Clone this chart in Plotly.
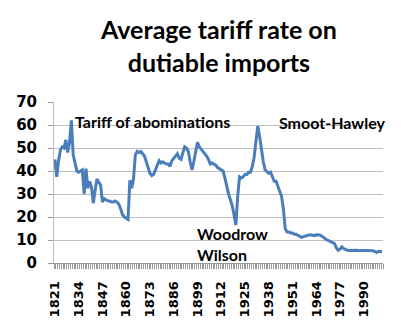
import plotly.graph_objects as go

# Average tariff rate on dutiable imports, percent, 1821-2000
years = list(range(1821, 2001))
tariff_rate = [
    45, 37.5, 44.5, 49, 50.5, 50, 53.5, 48, 52.5, 62,          # 1821-1830
    47, 43, 40, 39.5, 40, 40.5, 30, 41, 32.5, 35.5,             # 1831-1840
    33, 26, 31.5, 36.5, 35, 34, 26.5, 28, 27.5, 27,             # 1841-1850
    27, 26.5, 26.5, 27, 26.5, 25.5, 23.5, 21, 20, 19.5,         # 1851-1860
    19, 36, 32.5, 36.5, 47, 48.5, 48, 48.5, 47.5, 46.5,         # 1861-1870
    44, 41, 39, 38, 38.5, 40.5, 43, 44.5, 43.5, 44,             # 1871-1880
    43.5, 43, 43, 42, 44.5, 45.5, 46.5, 47.5, 45.5, 45,         # 1881-1890
    48, 50.5, 50, 48.5, 44, 40.5, 44, 48, 52.5, 50.5,           # 1891-1900
    49.5, 49, 48, 46.5, 45, 43, 43.5, 43, 42.5, 41.5,           # 1901-1910
    41, 40.5, 40, 37, 33, 30, 27.5, 25, 21, 16.5,               # 1911-1920
    29, 37.5, 37, 37.5, 38.5, 38.5, 39.5, 39.5, 42, 46,         # 1921-1930
    53, 59.5, 55, 49, 44, 40.5, 39.5, 39, 39.5, 37.5,           # 1931-1940
    35.5, 35.5, 33.5, 31.5, 29, 23.5, 15, 13.5, 13.5, 13,       # 1941-1950
    13, 12.5, 12.5, 12, 11.5, 11.2, 11.5, 11.8, 12, 12.2,       # 1951-1960
    12.3, 12, 11.9, 12.3, 12.3, 12.2, 11.6, 11.2, 10.4, 10,     # 1961-1970
    9.4, 9, 8.7, 8.4, 6.5, 5.5, 6, 7, 6.3, 5.8,                 # 1971-1980
    5.5, 5.4, 5.5, 5.5, 5.5, 5.5, 5.4, 5.5, 5.4, 5.4,           # 1981-1990
    5.4, 5.4, 5.3, 5.4, 5.3, 5.0, 4.6, 5.1, 5.0, 4.9,           # 1991-2000
]
label_years = list(range(1821, 2001, 13))
y_ticks = list(range(0, 80, 10))

# Labelled episodes: (text, year, value)
notes = [
    ("Tariff of abominations", 1831, 61.7),
    ("Smoot-Hawley", 1942.5, 61.3),
    ("Woodrow", 1897.5, 13),
    ("Wilson", 1897.5, 3.9),
]

fig = go.Figure()
fig.add_trace(go.Scatter(
    x=years, y=tariff_rate, mode="lines",
    line=dict(color="#4a7ebb", width=3),
    hoverinfo="x+y",
))

for text, xv, yv in notes:
    fig.add_annotation(
        x=xv, y=yv, text=text, showarrow=False,
        xanchor="left", yanchor="middle",
        font=dict(family="Lato", size=16, color="black", weight="bold"),
    )

# Two-line chart title above the plot area
fig.add_annotation(
    x=0.5, y=1.35, xref="paper", yref="paper",
    xanchor="center", yanchor="middle", showarrow=False,
    text="Average tariff rate on<br>dutiable imports",
    font=dict(family="Lato", size=25, color="black", weight="bold"),
)

fig.update_layout(
    width=401, height=336,
    margin=dict(l=54, r=18, t=102, b=73),
    paper_bgcolor="white", plot_bgcolor="white",
    showlegend=False,
)

fig.update_xaxes(
    range=[1820.5, 2000.5],
    tickmode="array", tickvals=label_years,
    ticktext=[str(y) for y in label_years],
    tickangle=-90, ticks="",
    ticklabelstandoff=12,
    tickfont=dict(family="DejaVu Sans", size=13, color="black", weight="bold"),
    showgrid=False, zeroline=False,
    showline=True, linecolor="#9a9a9a", linewidth=1,
    minor=dict(ticks="outside", ticklen=5, tickcolor="#9a9a9a",
               tick0=1820.5, dtick=1, showgrid=False),
)
fig.update_yaxes(
    range=[0, 70], tickvals=y_ticks,
    ticks="outside", ticklen=5, tickcolor="#9a9a9a",
    ticklabelstandoff=8,
    tickfont=dict(family="DejaVu Sans", size=15, color="black", weight="bold"),
    showgrid=True, gridcolor="#bfbfbf", gridwidth=1,
    zeroline=False,
    showline=True, linecolor="#bfbfbf", linewidth=1,
)

fig.write_html("out.html")
